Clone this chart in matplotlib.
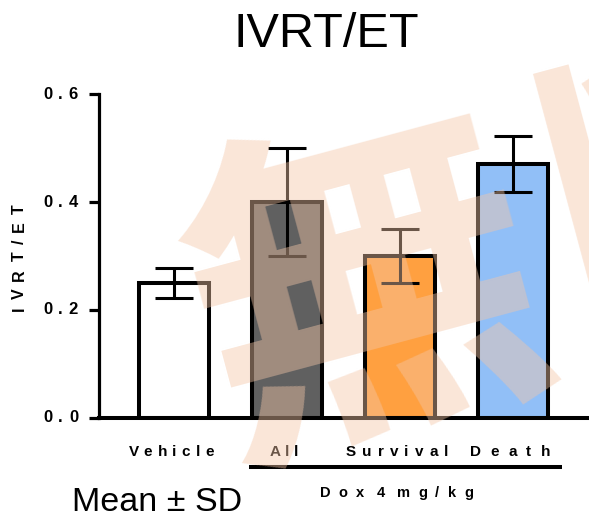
import matplotlib
matplotlib.use("Agg")
import matplotlib.pyplot as plt
import numpy as np

# ---------------- data ----------------
categories = ["Vehicle", "All", "Survival", "Death"]
means = [0.25, 0.40, 0.30, 0.47]
sds = [0.028, 0.10, 0.05, 0.052]
bar_colors = ["#FFFFFF", "#606060", "#FFA040", "#91BFF7"]
yticks = [0.0, 0.2, 0.4, 0.6]
ytick_labels = ["0.0", "0.2", "0.4", "0.6"]
title = "IVRT/ET"
ylabel = "IVRT/ET"
group_label = "Dox 4 mg/kg"
note = "Mean \u00b1 SD"

W, H, DPI = 589, 517, 100
fig = plt.figure(figsize=(W / DPI, H / DPI), dpi=DPI)

def fx(px):
    return px / W

def fy(py):
    return 1 - py / H

# axes: left spine at x=99, bottom at y=418, top (0.6) at y=94
ax = fig.add_axes([fx(99), fy(418), 1 - fx(99), (418 - 94) / H])
x = np.arange(len(categories))
ax.bar(x, means, width=0.62, color=bar_colors, edgecolor="black",
       linewidth=2.9, zorder=2)
ax.errorbar(x, means, yerr=sds, fmt="none", ecolor="black", elinewidth=2.2,
            capsize=13.7, capthick=2.2, zorder=3)
ax.set_xlim(-0.664, 3.673)
ax.set_ylim(0, 0.6)
ax.set_yticks(yticks)
ax.set_yticklabels([])
ax.set_xticks([])
for s in ["top", "right"]:
    ax.spines[s].set_visible(False)
ax.spines["left"].set_linewidth(2.3)
ax.spines["bottom"].set_linewidth(2.9)
ax.spines["left"].set_capstyle("projecting")
ax.tick_params(axis="y", length=7, width=2.3, direction="out")
ax.patch.set_alpha(0)

fig.canvas.draw()
renderer = fig.canvas.get_renderer()

def spaced(s, x0, x1, yc, size, rot=False, weight="bold"):
    """Draw letter-spaced text spanning x0..x1 (pixels, top origin) at yc.
    If rot, spans vertically from x1 (bottom) up to x0 (top) at horizontal yc."""
    props = dict(family=["Liberation Sans", "DejaVu Sans"], weight=weight, size=size)
    tokens = []
    nsp = 0
    for ch in s:
        if ch == " ":
            nsp += 1
            continue
        t = fig.text(0, 0, ch, **props)
        bb = t.get_window_extent(renderer)
        t.remove()
        tokens.append((ch, bb.width, nsp))
        nsp = 0
    sw = 0.278 * size * DPI / 72
    total_w = sum(w for _, w, _ in tokens) + sw * sum(n for _, _, n in tokens)
    ngaps = len(tokens) - 1
    gap = (abs(x1 - x0) - total_w) / ngaps if ngaps > 0 else 0
    pos = 0.0
    for i, (ch, w, n) in enumerate(tokens):
        if i > 0:
            pos += gap + n * sw
        if not rot:
            fig.text(fx(x0 + pos), fy(yc), ch, ha="left", va="center", **props)
        else:
            fig.text(fx(yc), fy(x1 - pos), ch, ha="center", va="bottom",
                     rotation=90, **props)
        pos += w

# y tick labels, positioned through the data transform
for v, lab in zip(yticks, ytick_labels):
    _, ypix = ax.transData.transform((0, v))
    ytop = H - ypix
    spaced(lab, 43, 78, ytop, 12)

# y label (rotated)
spaced(ylabel, 204, 311, 19, 11.5, rot=True)

# category labels
label_w = {"Vehicle": 85, "All": 28, "Survival": 102, "Death": 80}
for xi, cat in zip(x, categories):
    xpix, _ = ax.transData.transform((xi, 0))
    c = xpix - 3
    w = label_w[cat]
    spaced(cat, c - w / 2, c + w / 2, 452, 11)

# group line under All..Death
fig.add_artist(plt.Line2D([fx(249), fx(562)], [fy(467), fy(467)],
                          color="black", linewidth=2.9, solid_capstyle="butt"))
spaced(group_label, 320, 473, 493, 10.5)

# title and note
fig.text(fx(326), fy(47), title, ha="center", va="baseline", fontsize=35,
         family="Liberation Sans")
fig.text(fx(72), fy(511), note, ha="left", va="baseline", fontsize=24.5,
         family="Liberation Sans")

# watermark
wm_color = (244 / 255, 198 / 255, 167 / 255)
wm_size = 255
em = wm_size * DPI / 72
ang = np.deg2rad(15)
u = np.array([np.cos(ang), -np.sin(ang)])
c1 = np.array([368, 304])
c2 = c1 + (em + 20) * u
for ch, c in zip(["\u7121", "\u65ad"], [c1, c2]):
    fig.text(fx(c[0]), fy(c[1]), ch, fontsize=wm_size, family="Noto Sans CJK JP",
             weight="bold", color=wm_color, alpha=0.44, rotation=15,
             ha="center", va="center", rotation_mode="anchor", zorder=100)

fig.savefig("out.png", dpi=DPI)
